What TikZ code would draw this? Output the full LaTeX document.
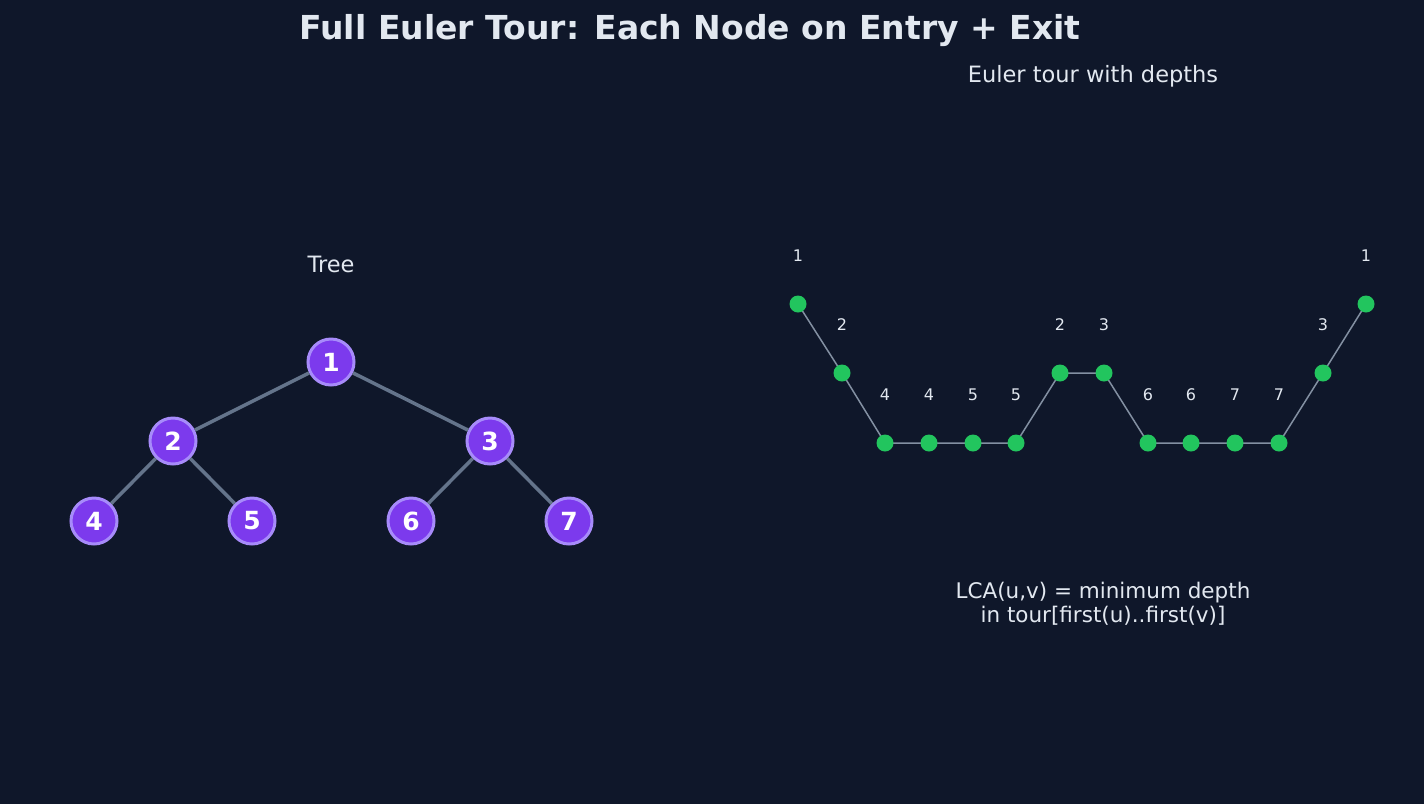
\documentclass[tikz,border=0pt]{standalone}
\usepackage{fontspec}
\setmainfont{DejaVu Sans}
\definecolor{bg}{HTML}{0F172A}
\definecolor{txt}{HTML}{E2E8F0}
\definecolor{edge}{HTML}{64748B}
\definecolor{pfill}{HTML}{7C3AED}
\definecolor{pline}{HTML}{A78BFA}
\definecolor{gdot}{HTML}{22C55E}
\begin{document}
\begin{tikzpicture}[x=1pt,y=-1pt,
  tnode/.style={circle,fill=pfill,draw=pline,line width=3pt,minimum size=46pt,inner sep=0pt,text=white,font=\fontsize{25}{25}\selectfont\bfseries},
  tedge/.style={draw=edge,line width=3.5pt},
  dot/.style={circle,fill=gdot,minimum size=17pt,inner sep=0pt},
  dlab/.style={text=txt,font=\fontsize{16}{16}\selectfont},
  lbl/.style={text=txt,font=\fontsize{22.5}{22.5}\selectfont}]
\fill[bg] (0,0) rectangle (1424,804);
\useasboundingbox (0,0) rectangle (1424,804);
\node[text=txt,font=\fontsize{33}{33}\selectfont\bfseries] (title) at (690,31) {Full Euler Tour: Each Node on Entry + Exit};
\node[lbl] (sub) at (1093,76) {Euler tour with depths};
\node[lbl] (tree) at (331,264) {Tree};
\node[text=txt,font=\fontsize{21.5}{24}\selectfont,align=center] (lca) at (1103,604) {LCA(u,v) = minimum depth\\in tour[first(u)..first(v)]};
\node[tnode] (n1) at (331,362) {1};
\node[tnode] (n2) at (173,441) {2};
\node[tnode] (n3) at (490,441) {3};
\node[tnode] (n4) at (94,521) {4};
\node[tnode] (n5) at (252,521) {5};
\node[tnode] (n6) at (411,521) {6};
\node[tnode] (n7) at (569,521) {7};
\foreach \a/\b in {n1/n2,n1/n3,n2/n4,n2/n5,n3/n6,n3/n7}
  \draw[tedge] (\a) -- (\b);
\foreach \i/\x/\y/\l in {1/798/304/1,2/842/373/2,3/885/443/4,4/929/443/4,5/973/443/5,6/1016/443/5,7/1060/373/2,8/1104/373/3,9/1148/443/6,10/1191/443/6,11/1235/443/7,12/1279/443/7,13/1323/373/3,14/1366/304/1}{
  \coordinate (p\i) at (\x,\y);
  \node[dlab] (l\i) at (\x,\y-48) {\l};
}
\draw[edge!80!white,line width=1.5pt] (p1) \foreach \i in {2,...,14}{ -- (p\i)};
\foreach \i in {1,...,14} \node[dot] (d\i) at (p\i) {};
\end{tikzpicture}
\end{document}
